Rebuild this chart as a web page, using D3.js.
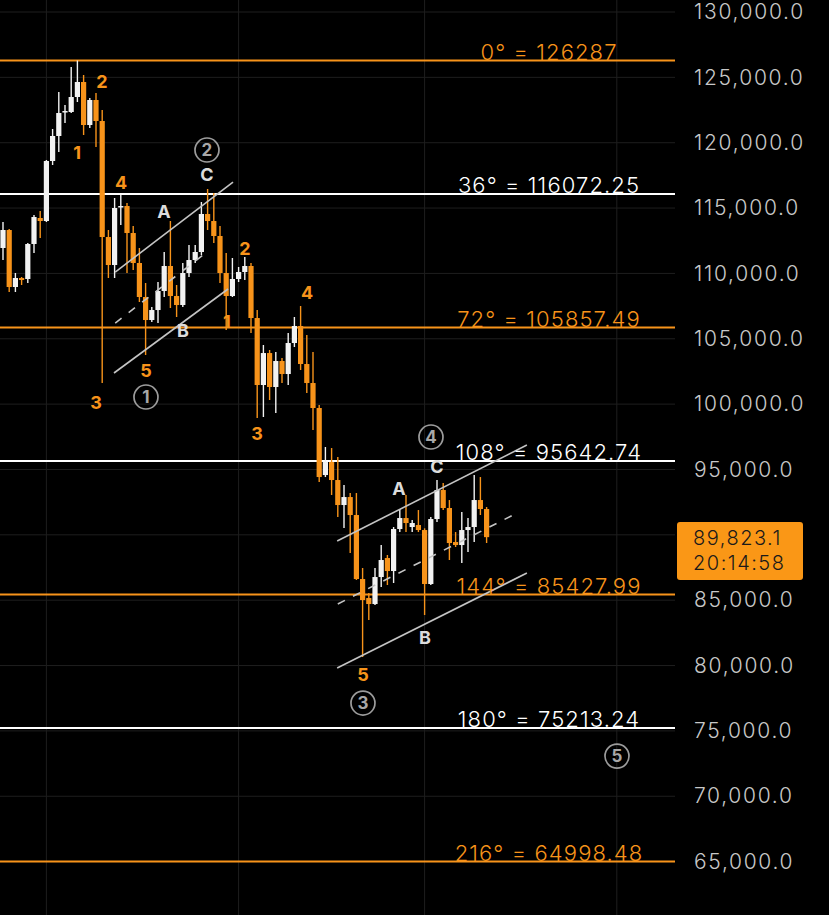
<!DOCTYPE html>
<html>
<head>
<meta charset="utf-8">
<script src="https://cdn.jsdelivr.net/npm/d3@7/dist/d3.min.js"></script>
<style>
  body { margin: 0; background: #000; }
  text { font-family: Inter, "Noto Sans", sans-serif; }
</style>
</head>
<body>
<div id="chart"></div>
<script>
// daily candles, 24 Sep -> 11 Dec
var opens = [111944,113321,108960,109648,109572,112250,114239,114009,118600,120513,
  122349,122349,123497,124644,121354,123267,121660,112785,110643,115080,
  115157,113091,110796,108195,106435,107199,108654,110567,108271,107582,
  110031,111025,111638,114545,114009,112862,110031,108271,109572,110107,
  110567,106587,101462,103908,101309,103298,102303,104675,105976,103069,
  101615,99702,94575,95570,94193,92280,92891,91515,86619,85165,
  84706,86772,88225,87231,90444,91285,90597,90750,90367,86237,
  91209,93428,92051,89449,89220,90367,90597,92662,91974];
var highs = [113933,113400,110031,109725,112326,114468,114774,118676,121048,123879,
  122884,125792,126287,125180,123420,123803,122502,113321,115769,115999,
  115387,113627,111944,109266,107428,109342,111638,114009,109113,110796,
  112173,112173,115463,116458,116152,113627,111561,111178,110490,111255,
  110796,107199,104522,104140,103986,103527,105440,106664,107505,105287,
  103986,99932,96718,96641,95953,93810,93198,93198,87461,85548,
  87461,89220,88455,90597,91974,93045,91133,91897,90500,91362,
  94193,93963,92662,90214,91744,91285,94575,94422,92127];
var lows = [111025,108577,108577,109113,109266,111561,112709,113933,118294,119288,
  121507,122272,123114,120589,121125,119671,101615,109648,109648,113704,
  110031,110260,107812,103757,106282,106205,108195,107352,106664,107428,
  109725,110796,111408,113321,112326,109266,105670,108195,109342,109495,
  105440,98936,99013,100314,99319,101615,101462,104369,102609,100850,
  98018,94040,94422,93045,91362,90520,88608,86542,80651,83482,
  84629,86007,86160,86313,90214,90214,90214,90214,83864,86160,
  90979,91897,88073,89067,87843,88685,89449,91515,89373];
var closes = [113321,108960,109648,109495,112250,114315,114009,118600,120513,122272,
  122425,123497,124644,121354,123267,121660,112785,110643,115004,115157,
  113091,110796,108195,106435,107199,108654,110567,108271,107582,110031,
  111025,111638,114545,114009,112862,110031,108271,109572,110107,110567,
  106587,101462,103908,101309,103298,102303,104675,105976,103069,101615,
  99702,94422,95570,94193,92280,92891,91515,86619,85012,84706,
  86772,88073,87231,90444,91285,90903,90903,90367,86237,91209,
  93428,92051,89373,89220,90367,90597,92662,91974,89823];

var startDate = new Date(2025, 8, 24);
var monthStarts = [new Date(2025, 9, 1), new Date(2025, 10, 1), new Date(2025, 11, 1), new Date(2026, 0, 1)];

var tickValues = [130000,125000,120000,115000,110000,105000,100000,95000,90000,85000,80000,75000,70000,65000];

// fan levels
var levelAngles = [0, 36, 72, 108, 144, 180, 216];
var levelPrices = [126287, 116072.25, 105857.49, 95642.74, 85427.99, 75213.24, 64998.48];
var levelLabels = ["126287", "116072.25", "105857.49", "95642.74", "85427.99", "75213.24", "64998.48"];

// channels: [startIndex, startPrice, endIndex, endPrice]
var channelLines = [
  [18.1, 110107, 37.1, 116993],
  [17.9, 102380, 36.3, 108807],
  [53.9, 89526, 84.5, 96871],
  [53.9, 79810, 84.5, 87078]
];
var channelMids = [
  [18.1, 106205, 32.9, 111638],
  [54.0, 84706, 82.9, 91668]
];

// wave counts
var waveText = ["1","2","3","4","5","1","2","3","4","5"];
var waveIdx = [11.94,15.97,15.0,19.03,23.06,36.13,39.03,40.97,49.03,58.06];
var wavePrice = [119212,124644,100160,116917,102609,106282,111867,97789,108501,79350];

var corrText = ["A","B","C","A","B","C"];
var corrIdx = [25.97,29.03,32.9,63.87,68.06,70.0];
var corrPrice = [114698,105593,117529,93505,82181,95188];

var degreeText = ["1","2","3","4","5"];
var degreeIdx = [23.06,32.9,58.06,69.03,99.03];
var degreePrice = [100544,119441,77131,97483,73076];

var lastPrice = "89,823.1";
var countdown = "20:14:58";

var width = 829, height = 915, plotRight = 675;
var orange = "#f7931a";

var svg = d3.select("#chart")
    .append("svg")
    .attr("width", width)
    .attr("height", height)
    .style("background", "#000");

var x = d3.scaleLinear().domain([0, 78]).range([3, 486.6]);
var y = d3.scaleLinear().domain([65000, 130000]).range([861.6, 12]);

// grid
svg.append("g").selectAll("line")
    .data(tickValues)
    .enter().append("line")
    .attr("x1", 0).attr("x2", plotRight)
    .attr("y1", d => y(d)).attr("y2", d => y(d))
    .attr("stroke", "#1e1e1e").attr("stroke-width", 1);

svg.append("g").selectAll("line")
    .data(monthStarts)
    .enter().append("line")
    .attr("x1", d => x(d3.timeDay.count(startDate, d)))
    .attr("x2", d => x(d3.timeDay.count(startDate, d)))
    .attr("y1", 0).attr("y2", height)
    .attr("stroke", "#1e1e1e").attr("stroke-width", 1);

// level lines
var levels = levelPrices.map(function(p, i) {
    return { price: p, angle: levelAngles[i], label: levelLabels[i], color: i % 2 == 0 ? orange : "#ffffff" };
});

svg.append("g").selectAll("line")
    .data(levels)
    .enter().append("line")
    .attr("x1", 0).attr("x2", plotRight)
    .attr("y1", d => y(d.price)).attr("y2", d => y(d.price))
    .attr("stroke", d => d.color).attr("stroke-width", 2);

// candles
var candles = opens.map(function(o, i) {
    return { i: i, o: o, h: highs[i], l: lows[i], c: closes[i] };
});
var cg = svg.append("g");
cg.selectAll("line")
    .data(candles)
    .enter().append("line")
    .attr("x1", d => x(d.i)).attr("x2", d => x(d.i))
    .attr("y1", d => y(d.h)).attr("y2", d => y(d.l))
    .attr("stroke", d => d.c >= d.o ? "#f2f2f2" : orange)
    .attr("stroke-width", 1.4);
cg.selectAll("rect")
    .data(candles)
    .enter().append("rect")
    .attr("x", d => x(d.i) - 2.6)
    .attr("width", 5.2)
    .attr("y", d => y(Math.max(d.o, d.c)))
    .attr("height", d => Math.max(1.5, Math.abs(y(d.o) - y(d.c))))
    .attr("fill", d => d.c >= d.o ? "#f2f2f2" : orange);

// channels
svg.append("g").selectAll("line")
    .data(channelLines)
    .enter().append("line")
    .attr("x1", d => x(d[0])).attr("y1", d => y(d[1]))
    .attr("x2", d => x(d[2])).attr("y2", d => y(d[3]))
    .attr("stroke", "#c4c4c4").attr("stroke-width", 1.6);
svg.append("g").selectAll("line")
    .data(channelMids)
    .enter().append("line")
    .attr("x1", d => x(d[0])).attr("y1", d => y(d[1]))
    .attr("x2", d => x(d[2])).attr("y2", d => y(d[3]))
    .attr("stroke", "#c4c4c4").attr("stroke-width", 1.6)
    .attr("stroke-dasharray", "8,9");

// level labels
svg.append("g").selectAll("text")
    .data(levels)
    .enter().append("text")
    .attr("x", 549)
    .attr("y", d => y(d.price) - 1)
    .attr("text-anchor", "middle")
    .attr("fill", d => d.color)
    .style("font-size", "22px")
    .style("font-weight", 300)
    .style("letter-spacing", "1.1px")
    .text(d => d.angle + "\u00b0 = " + d.label);

// wave labels
svg.append("g").selectAll("text")
    .data(waveText)
    .enter().append("text")
    .attr("x", (d, i) => x(waveIdx[i]))
    .attr("y", (d, i) => y(wavePrice[i]))
    .attr("dy", "0.36em")
    .attr("text-anchor", "middle")
    .attr("fill", orange)
    .style("font-size", "18px").style("font-weight", "bold")
    .text(d => d);

svg.append("g").selectAll("text")
    .data(corrText)
    .enter().append("text")
    .attr("x", (d, i) => x(corrIdx[i]))
    .attr("y", (d, i) => y(corrPrice[i]))
    .attr("dy", "0.36em")
    .attr("text-anchor", "middle")
    .attr("fill", "#dcdcdc")
    .style("font-size", "18px").style("font-weight", "bold")
    .text(d => d);

var deg = svg.append("g").selectAll("g")
    .data(degreeText)
    .enter().append("g")
    .attr("transform", (d, i) => "translate(" + x(degreeIdx[i]) + "," + y(degreePrice[i]) + ")");
deg.append("circle")
    .attr("r", 12)
    .attr("fill", "none")
    .attr("stroke", "#9c9c9c")
    .attr("stroke-width", 1.7);
deg.append("text")
    .attr("dy", "0.36em")
    .attr("text-anchor", "middle")
    .attr("fill", "#a8a8a8")
    .style("font-size", "17px").style("font-weight", "bold")
    .text(d => d);

// price axis
var yAxis = svg.append("g")
    .attr("transform", "translate(690,0)")
    .call(d3.axisRight(y).tickValues(tickValues).tickSize(0).tickPadding(4).tickFormat(d3.format(",.1f")));
yAxis.select(".domain").remove();
yAxis.selectAll("text")
    .attr("fill", "#c8c8c8")
    .style("font-size", "21px")
    .style("font-weight", 300)
    .style("letter-spacing", "1.7px")
    .style("font-family", "Inter, 'Noto Sans', sans-serif");

// last price tag
var tag = svg.append("g").attr("transform", "translate(677,522)");
tag.append("rect")
    .attr("width", 126).attr("height", 58).attr("rx", 3)
    .attr("fill", "#fa9716");
tag.append("text")
    .attr("x", 16).attr("y", 16).attr("dy", "0.36em")
    .attr("fill", "#1a1a1a").style("font-size", "20px")
    .style("font-weight", 300).style("letter-spacing", "1.5px")
    .text(lastPrice);
tag.append("text")
    .attr("x", 16).attr("y", 41).attr("dy", "0.36em")
    .attr("fill", "#1a1a1a").style("font-size", "20px")
    .style("font-weight", 300).style("letter-spacing", "1.5px")
    .text(countdown);
</script>
</body>
</html>
